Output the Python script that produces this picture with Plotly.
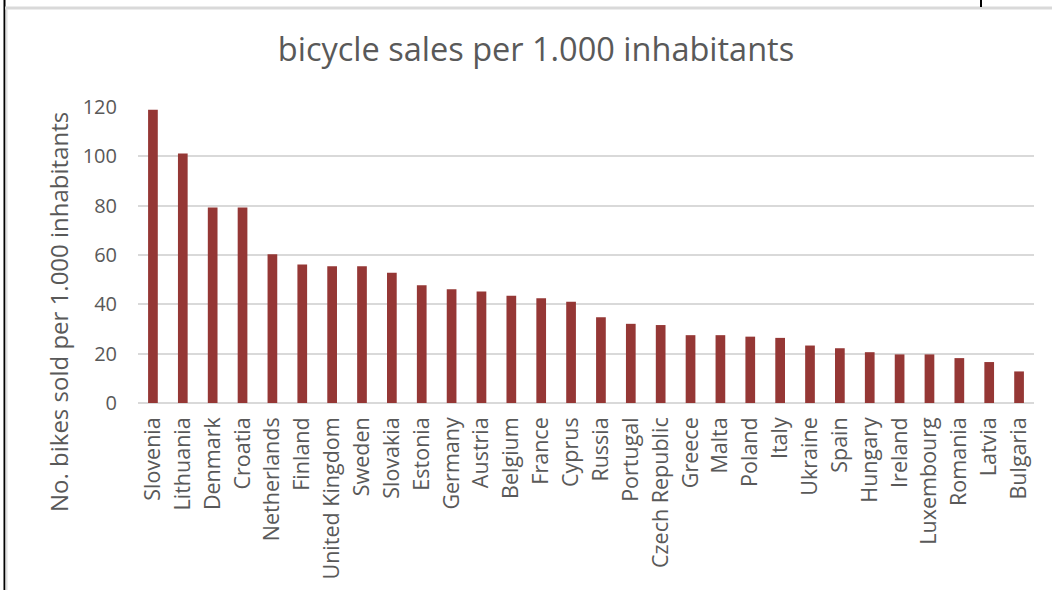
import plotly.graph_objects as go

countries = ["Slovenia", "Lithuania", "Denmark", "Croatia", "Netherlands", "Finland",
             "United Kingdom", "Sweden", "Slovakia", "Estonia", "Germany", "Austria",
             "Belgium", "France", "Cyprus", "Russia", "Portugal", "Czech Republic",
             "Greece", "Malta", "Poland", "Italy", "Ukraine", "Spain", "Hungary",
             "Ireland", "Luxembourg", "Romania", "Latvia", "Bulgaria"]
sales = [118.9, 101.1, 79.3, 79.3, 60.3, 56.1, 55.4, 55.4, 52.8, 47.7, 46.1, 45.2,
         43.5, 42.5, 41.0, 34.8, 32.1, 31.6, 27.5, 27.5, 26.9, 26.4, 23.3, 22.2,
         20.6, 19.7, 19.7, 18.2, 16.6, 12.8]
y_ticks = [0, 20, 40, 60, 80, 100, 120]

W, H = 1052, 590
L, R, T, B = 138, 18, 107, 187
pw, ph = W - L - R, H - T - B

def px_x(p):
    return (p - L) / pw

def px_y(p):
    return (H - B - p) / ph

GREY = "#595959"
FONT = "Open Sans"

fig = go.Figure(go.Bar(
    x=countries, y=sales,
    marker=dict(color="#953735", line=dict(width=0)),
))

fig.update_layout(
    width=W, height=H,
    margin=dict(l=L, r=R, t=T, b=B, autoexpand=False),
    paper_bgcolor="white", plot_bgcolor="white",
    bargap=0.675,
    showlegend=False,
    title=dict(text="bicycle sales per 1.000 inhabitants",
               font=dict(family=FONT, size=32.5, color=GREY),
               x=536 / W, xanchor="center", y=1 - 50 / H, yanchor="middle"),
    font=dict(family=FONT, color=GREY),
)
fig.update_xaxes(
    tickangle=-90, tickfont=dict(family=FONT, size=21.5, color=GREY),
    showgrid=False, showline=False, ticks="", ticklabelstandoff=9,
    automargin=False,
)
fig.update_yaxes(
    range=[0, 120], tickvals=y_ticks,
    tickfont=dict(family=FONT, size=20, color=GREY),
    showgrid=True, gridcolor="#d9d9d9", gridwidth=2,
    zeroline=True, zerolinecolor="#d9d9d9", zerolinewidth=2,
    showline=False, ticks="", ticklabelstandoff=20,
    automargin=False,
)

fig.add_annotation(
    text="No. bikes sold per 1.000 inhabitants", textangle=-90,
    xref="paper", yref="paper", x=px_x(58), y=px_y(312),
    xanchor="center", yanchor="middle", showarrow=False,
    font=dict(family=FONT, size=24, color=GREY),
)

shapes = [
    dict(type="line", xref="paper", yref="paper", x0=px_x(4.5), x1=px_x(4.5),
         y0=px_y(0), y1=px_y(H), line=dict(color="black", width=2)),
    dict(type="line", xref="paper", yref="paper", x0=px_x(5), x1=px_x(W),
         y0=px_y(8), y1=px_y(8), line=dict(color="#d9d9d9", width=3)),
    dict(type="line", xref="paper", yref="paper", x0=px_x(6.5), x1=px_x(6.5),
         y0=px_y(9), y1=px_y(H), line=dict(color="#e0e0e0", width=2)),
    dict(type="line", xref="paper", yref="paper", x0=px_x(981), x1=px_x(981),
         y0=px_y(0), y1=px_y(7), line=dict(color="black", width=2)),
]
fig.update_layout(shapes=shapes)

fig.write_html("out.html", config={"displayModeBar": False},
               post_script="document.body.style.margin='0';")
